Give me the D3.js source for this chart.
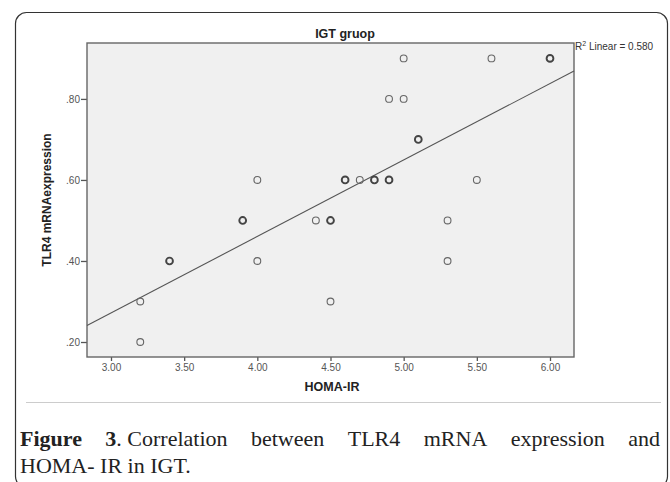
<!DOCTYPE html>
<html>
<head>
<meta charset="utf-8">
<script src="https://cdn.jsdelivr.net/npm/d3@7"></script>
<style>
  body { margin: 0; background: #fff; }
  svg { display: block; }
</style>
</head>
<body>
<div id="vis-container"></div>
<script>
// HOMA-IR vs TLR4 mRNA expression, IGT group
let homa  = [3.2, 3.2, 3.4, 3.9, 4.0, 4.0, 4.4, 4.5, 4.5, 4.6, 4.7, 4.8, 4.9, 4.9, 5.0, 5.0, 5.1, 5.3, 5.3, 5.5, 5.6, 6.0];
let tlr4  = [0.20, 0.30, 0.40, 0.50, 0.40, 0.60, 0.50, 0.50, 0.30, 0.60, 0.60, 0.60, 0.80, 0.60, 0.90, 0.80, 0.70, 0.50, 0.40, 0.60, 0.90, 0.90];
// how many cases sit on the same spot (bold rings in the picture)
let cases = [1, 1, 2, 2, 1, 1, 1, 2, 1, 2, 1, 2, 1, 2, 1, 1, 2, 1, 1, 1, 1, 2];

let xTicks = [3.0, 3.5, 4.0, 4.5, 5.0, 5.5, 6.0];
let yTicks = [0.2, 0.4, 0.6, 0.8];

let w = 670;
let h = 482;

let svg = d3.select("#vis-container")
  .append("svg")
  .attr("width", w)
  .attr("height", h);

// outer frame
svg.append("rect")
  .attr("x", 15.5).attr("y", 12.5)
  .attr("width", 652).attr("height", 475)
  .attr("rx", 11)
  .attr("fill", "none")
  .attr("stroke", "#333")
  .attr("stroke-width", 1.2);

let plot = {left: 87, top: 43, right: 574, bottom: 357};

let x = d3.scaleLinear()
  .domain([2.836, 6.164])
  .range([plot.left, plot.right]);

let y = d3.scaleLinear()
  .domain([0.163, 0.938])
  .range([plot.bottom, plot.top]);

svg.append("rect")
  .attr("x", plot.left).attr("y", plot.top)
  .attr("width", plot.right - plot.left)
  .attr("height", plot.bottom - plot.top)
  .attr("fill", "#f0f0f0");

// axes
let xAxis = svg.append("g")
  .attr("transform", "translate(0," + plot.bottom + ")")
  .call(d3.axisBottom(x).tickValues(xTicks).tickFormat(d3.format(".2f")).tickSize(4).tickSizeOuter(0));

let yAxis = svg.append("g")
  .attr("transform", "translate(" + plot.left + ",0)")
  .call(d3.axisLeft(y).tickValues(yTicks).tickFormat(d => d3.format(".2f")(d).replace(/^0/, "")).tickSize(6).tickSizeOuter(0));

for (let g of [xAxis, yAxis]) {
  g.select(".domain").remove();
  g.selectAll(".tick line").attr("stroke", "#555").attr("stroke-width", 1.3);
  g.selectAll(".tick text")
    .attr("fill", "#555")
    .attr("font-family", "Liberation Sans, Arial, sans-serif")
    .attr("font-size", 10);
}
yAxis.selectAll(".tick text").attr("x", -7);
xAxis.selectAll(".tick text").attr("y", 7);

// plot border
svg.append("rect")
  .attr("x", plot.left).attr("y", plot.top)
  .attr("width", plot.right - plot.left)
  .attr("height", plot.bottom - plot.top)
  .attr("fill", "none")
  .attr("stroke", "#666")
  .attr("stroke-width", 1.4);

// least squares fit (weighted by number of cases)
let pts = homa.map((d, i) => ({x: d, y: tlr4[i], n: cases[i]}));
let N = d3.sum(pts, d => d.n);
let mx = d3.sum(pts, d => d.x * d.n) / N;
let my = d3.sum(pts, d => d.y * d.n) / N;
let sxy = d3.sum(pts, d => d.n * (d.x - mx) * (d.y - my));
let sxx = d3.sum(pts, d => d.n * (d.x - mx) * (d.x - mx));
let syy = d3.sum(pts, d => d.n * (d.y - my) * (d.y - my));
let slope = sxy / sxx;
let icpt = my - slope * mx;
let r2 = sxy * sxy / (sxx * syy);

let xd = x.domain();
svg.append("line")
  .attr("x1", x(xd[0])).attr("y1", y(icpt + slope * xd[0]))
  .attr("x2", x(xd[1])).attr("y2", y(icpt + slope * xd[1]))
  .attr("stroke", "#555")
  .attr("stroke-width", 1.1);

svg.selectAll("circle")
  .data(pts)
  .enter()
  .append("circle")
  .attr("cx", d => x(d.x))
  .attr("cy", d => y(d.y))
  .attr("r", 3.4)
  .attr("fill", "none")
  .attr("stroke", d => d.n > 1 ? "#444" : "#666")
  .attr("stroke-width", d => d.n > 1 ? 1.9 : 1.1);

// texts
let sans = "Liberation Sans, Arial, sans-serif";

svg.append("text")
  .attr("x", 345).attr("y", 38)
  .attr("text-anchor", "middle")
  .attr("font-family", sans).attr("font-weight", "bold").attr("font-size", 12.5)
  .attr("fill", "#222")
  .text("IGT gruop");

let r2Text = svg.append("text")
  .attr("x", 575).attr("y", 50)
  .attr("font-family", sans).attr("font-size", 10)
  .attr("fill", "#333");
r2Text.append("tspan").text("R");
r2Text.append("tspan").attr("font-size", 7).attr("dy", -4).text("2");
r2Text.append("tspan").attr("dy", 4).text(" Linear = " + d3.format(".3f")(r2));

svg.append("text")
  .attr("transform", "translate(51,200) rotate(-90)")
  .attr("text-anchor", "middle")
  .attr("font-family", sans).attr("font-weight", "bold").attr("font-size", 12)
  .attr("fill", "#222")
  .text("TLR4 mRNAexpression");

svg.append("text")
  .attr("x", 332).attr("y", 391)
  .attr("text-anchor", "middle")
  .attr("font-family", sans).attr("font-weight", "bold").attr("font-size", 12.5)
  .attr("fill", "#222")
  .text("HOMA-IR");

// caption
svg.append("line")
  .attr("x1", 26).attr("x2", 661)
  .attr("y1", 402.5).attr("y2", 402.5)
  .attr("stroke", "#ccc");

let serif = "Liberation Serif, Times New Roman, serif";
let line1 = [["Figure", true], ["3", true], [". Correlation", false], ["between", false], ["TLR4", false],
             ["mRNA", false], ["expression", false], ["and", false]];

let cap = svg.append("g")
  .attr("font-family", serif).attr("font-size", 22).attr("fill", "#222");

// justify the first line between the margins
let words = cap.selectAll("text.w")
  .data(line1)
  .enter()
  .append("text")
  .attr("class", "w")
  .attr("y", 446)
  .attr("font-weight", d => d[1] ? "bold" : "normal")
  .text(d => d[0]);

let widths = [];
words.each(function() { widths.push(this.getComputedTextLength()); });
let left = 20, right = 660;
// "3" and ". Correlation" are joined without a gap
let gap = (right - left - d3.sum(widths)) / (widths.length - 2);
let pos = left;
words.each(function(d, i) {
  d3.select(this).attr("x", pos);
  pos += widths[i] + (i === 1 ? 0 : gap);
});

cap.append("text")
  .attr("x", left).attr("y", 473)
  .text("HOMA- IR in IGT.");
</script>
</body>
</html>
